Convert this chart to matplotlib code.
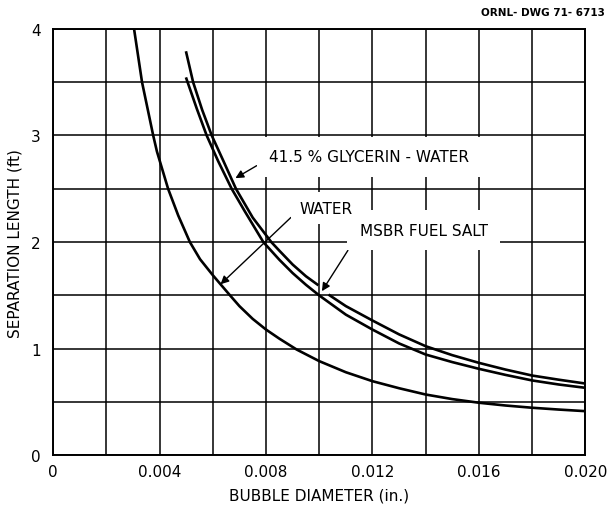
import matplotlib

matplotlib.use("Agg")
import matplotlib.pyplot as plt
import numpy as np

plt.rcParams.update({"font.family": "DejaVu Sans", "font.size": 11})

# separation length (ft) vs bubble diameter (in.)
water_d = [0.00304, 0.00334, 0.00376, 0.0039, 0.00432, 0.0047, 0.00514, 0.00552,
           0.0060, 0.00629, 0.00665, 0.0070, 0.0075, 0.0080, 0.0085, 0.00915,
           0.0100, 0.0110, 0.0120, 0.0130, 0.0140, 0.0150, 0.0160, 0.0170,
           0.0180, 0.0190, 0.0200]
water_len = [4.0, 3.5, 3.0, 2.85, 2.5, 2.25, 2.0, 1.84,
             1.69, 1.605, 1.5, 1.40, 1.28, 1.18, 1.095, 0.993,
             0.884, 0.78, 0.696, 0.63, 0.571, 0.528, 0.494, 0.468,
             0.447, 0.43, 0.415]

# the glycerin-water line is broken where the fuel-salt arrow comes in
glycerin_d = [0.00499, 0.00526, 0.0056, 0.00596, 0.0064, 0.00687, 0.0075, 0.0082,
              0.0085, 0.0090, 0.0095, 0.00997, np.nan, 0.01035, 0.0110, 0.0120,
              0.0130, 0.0140, 0.0150, 0.0160, 0.0170, 0.0180, 0.0190, 0.0200]
glycerin_len = [3.79, 3.5, 3.24, 3.0, 2.76, 2.5, 2.23, 2.0,
                1.92, 1.79, 1.68, 1.595, np.nan, 1.508, 1.40, 1.265,
                1.135, 1.024, 0.94, 0.868, 0.805, 0.749, 0.71, 0.674]

salt_d = [0.00499, 0.0054, 0.00577, 0.0062, 0.00671, 0.0072, 0.0079, 0.0085,
          0.0090, 0.0095, 0.0100, 0.0110, 0.0120, 0.0130, 0.0140, 0.0150,
          0.0160, 0.0170, 0.0180, 0.0190, 0.0200]
salt_len = [3.545, 3.25, 3.0, 2.76, 2.5, 2.29, 2.0, 1.835,
            1.71, 1.60, 1.5, 1.32, 1.18, 1.05, 0.946, 0.875,
            0.812, 0.755, 0.703, 0.665, 0.634]

x_major = [0, 0.004, 0.008, 0.012, 0.016, 0.020]
x_labels = ["0", "0.004", "0.008", "0.012", "0.016", "0.020"]
y_major = [0, 1, 2, 3, 4]

fig = plt.figure(figsize=(6.11, 5.06), dpi=100)
ax = fig.add_axes([0.087, 0.098, 0.871, 0.843])

ax.set_xlim(0, 0.020)
ax.set_ylim(0, 4)
ax.set_xticks(x_major, x_labels)
ax.set_yticks(y_major)
ax.set_xticks(np.arange(0, 0.0201, 0.002), minor=True)
ax.set_yticks(np.arange(0, 4.01, 0.5), minor=True)
ax.tick_params(which="both", length=0, labelsize=11)
ax.tick_params(axis="x", pad=6)
ax.tick_params(axis="y", pad=9)
ax.grid(which="both", color="black", lw=1.1)
for s in ax.spines.values():
    s.set_linewidth(1.4)

for d, L in [(water_d, water_len), (glycerin_d, glycerin_len), (salt_d, salt_len)]:
    ax.plot(d, L, color="black", lw=1.9, zorder=3, solid_capstyle="butt",
            solid_joinstyle="round")


def label(text, tip, pos, pad, z):
    ax.annotate(text, xy=tip, xytext=pos, ha="left", va="center", fontsize=11,
                bbox=dict(facecolor="white", edgecolor="none", pad=pad),
                arrowprops=dict(arrowstyle="-|>", color="black", lw=1.0,
                                mutation_scale=12, shrinkA=0, shrinkB=0,
                                relpos=(0, 0.4)),
                zorder=z)


label("41.5 % GLYCERIN - WATER", (0.00685, 2.60), (0.00812, 2.80), 9, 4)
label("MSBR FUEL SALT", (0.0101, 1.54), (0.01152, 2.11), 9, 4)
label("WATER", (0.00629, 1.605), (0.00925, 2.32), 6, 5)

ax.set_xlabel("BUBBLE DIAMETER (in.)", fontsize=11, labelpad=6)
ax.set_ylabel("SEPARATION LENGTH (ft)", fontsize=11, labelpad=6)
fig.text(0.99, 0.985, "ORNL- DWG 71- 6713", ha="right", va="top",
         fontsize=7.5, fontweight="bold")

fig.savefig("out.png", dpi=100)
